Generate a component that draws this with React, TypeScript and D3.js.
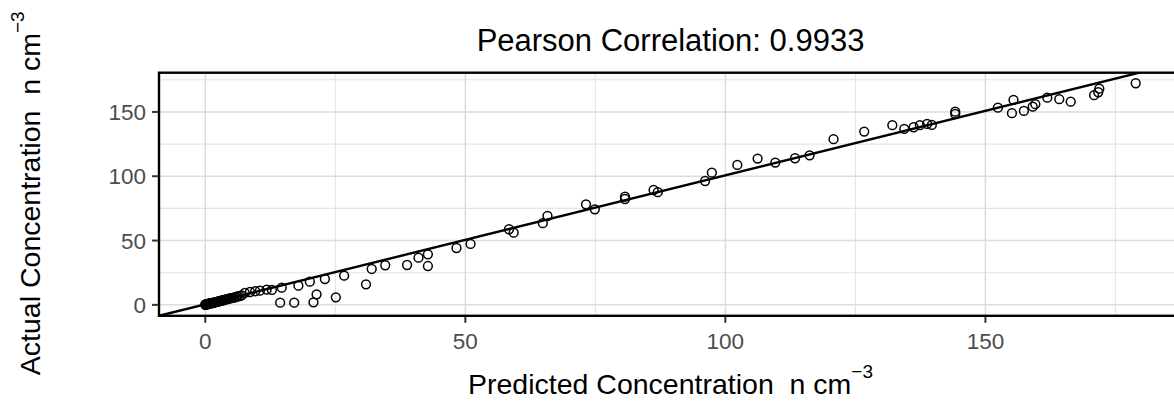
import React from "react";
import * as d3 from "d3";

const predicted: number[] = [
  0.0, 0.05, 0.1, 0.15, 0.2, 0.3, 0.35, 0.4, 0.5, 0.6, 0.7, 0.8, 0.9, 1.0, 1.1, 1.2, 1.4, 1.5, 1.7, 1.9,
  2.0, 2.2, 2.4, 2.6, 2.8, 3.0, 3.2, 3.4, 3.6, 3.8, 4.0, 4.3, 4.5, 4.8, 5.0, 5.3, 5.6, 5.9, 6.2, 6.6, 7.0,
  7.6, 8.6, 9.6, 10.5, 11.8, 12.8, 14.7, 17.9, 20.1, 23.0, 26.7,
  14.4, 17.1, 20.8, 21.4, 25.1,
  30.9, 32.0, 34.6, 38.8, 41.0, 42.8, 42.8, 48.3, 51.0, 58.4, 59.3,
  64.9, 65.8, 73.2, 74.9, 80.7, 80.7, 86.2, 87.0, 96.1, 97.4, 102.3,
  106.2, 109.6, 113.4, 116.2, 120.8, 126.7, 132.1, 134.4, 136.2, 137.4, 138.8, 139.7, 144.2, 144.2,
  152.4, 155.4, 155.1, 157.4, 159.1, 159.6, 161.9, 164.2, 166.4, 170.9, 171.7, 171.9, 178.9,
];
const actual: number[] = [
  0.1, 0.3, 0.2, 0.5, 0.4, 0.6, 0.3, 0.8, 0.5, 0.9, 0.7, 1.1, 1.0, 1.3, 1.2, 1.5, 1.6, 1.4, 1.9, 2.0,
  2.2, 2.4, 2.5, 2.8, 3.0, 3.1, 3.4, 3.6, 3.8, 4.0, 4.3, 4.5, 4.8, 5.0, 5.3, 5.5, 5.9, 6.1, 6.6, 6.9, 7.3,
  9.3, 10.0, 10.6, 11.0, 11.8, 11.6, 13.4, 14.9, 18.0, 20.1, 22.7,
  1.7, 1.7, 2.0, 8.2, 5.9,
  16.0, 27.9, 30.8, 31.0, 36.7, 39.3, 30.2, 44.2, 47.4, 58.8, 56.1,
  63.5, 69.1, 78.2, 74.3, 84.1, 82.3, 89.3, 87.6, 96.3, 102.8, 108.8,
  113.7, 110.6, 114.0, 116.3, 128.8, 134.7, 139.7, 136.8, 138.1, 139.7, 140.7, 139.9, 150.2, 148.4,
  153.3, 159.3, 149.0, 150.8, 154.1, 156.0, 161.1, 159.9, 158.0, 163.0, 165.3, 168.1, 172.3,
];

const xMajorTicks: number[] = [0, 50, 100, 150];
const xMinorTicks: number[] = [25, 75, 125, 175];
const yMajorTicks: number[] = [0, 50, 100, 150];
const yMinorTicks: number[] = [25, 75, 125, 175];

const fitIntercept = 0.4;
const fitSlope = 1.003;
const titleText = "Pearson Correlation: 0.9933";

const W = 1174;
const H = 406;
const panel = { left: 159, right: 1182, top: 72.7, bottom: 315.8 };
const FONT = "'Liberation Sans', Arial, Helvetica, sans-serif";

export default function App() {
  const x = d3.scaleLinear().domain([-8.9, 187.8]).range([panel.left, panel.right]);
  const y = d3.scaleLinear().domain([-8.5, 180.5]).range([panel.bottom, panel.top]);
  const xd = x.domain();
  const fitLine = d3
    .line<number>()
    .x((v) => x(v))
    .y((v) => y(fitIntercept + fitSlope * v))([xd[0], xd[1]]);
  const pts = predicted.map((p, i) => [p, actual[i]] as [number, number]);
  const cx = (panel.left + panel.right) / 2;
  const cy = (panel.top + panel.bottom) / 2;

  return (
    <svg
      width={W}
      height={H}
      style={{ position: "absolute", left: 0, top: 0, background: "#fff" }}
      fontFamily={FONT}
    >
      <defs>
        <clipPath id="panelClip">
          <rect x={panel.left} y={panel.top} width={panel.right - panel.left} height={panel.bottom - panel.top} />
        </clipPath>
      </defs>
      <rect x={0} y={0} width={W} height={H} fill="#fff" />
      <g>
        {xMinorTicks.map((t) => (
          <line key={"xm" + t} x1={x(t)} x2={x(t)} y1={panel.top} y2={panel.bottom} stroke="#E4E4E4" strokeWidth={1.1} />
        ))}
        {yMinorTicks.map((t) => (
          <line key={"ym" + t} y1={y(t)} y2={y(t)} x1={panel.left} x2={panel.right} stroke="#E4E4E4" strokeWidth={1.1} />
        ))}
        {xMajorTicks.map((t) => (
          <line key={"xM" + t} x1={x(t)} x2={x(t)} y1={panel.top} y2={panel.bottom} stroke="#DCDCDC" strokeWidth={1.5} />
        ))}
        {yMajorTicks.map((t) => (
          <line key={"yM" + t} y1={y(t)} y2={y(t)} x1={panel.left} x2={panel.right} stroke="#DCDCDC" strokeWidth={1.5} />
        ))}
      </g>
      <g clipPath="url(#panelClip)">
        {pts.map((d, i) => (
          <circle key={i} cx={x(d[0])} cy={y(d[1])} r={4.4} fill="none" stroke="#000" strokeWidth={1.5} />
        ))}
        <path d={fitLine || ""} stroke="#000" strokeWidth={2.4} fill="none" />
      </g>
      <rect
        x={panel.left}
        y={panel.top}
        width={panel.right - panel.left}
        height={panel.bottom - panel.top}
        fill="none"
        stroke="#000"
        strokeWidth={2.4}
      />
      {xMajorTicks.map((t) => (
        <g key={"xt" + t}>
          <line x1={x(t)} x2={x(t)} y1={panel.bottom + 1} y2={panel.bottom + 7} stroke="#333" strokeWidth={2} />
          <text x={x(t)} y={348.5} textAnchor="middle" fontSize={22.5} fill="#4D4D4D">
            {t}
          </text>
        </g>
      ))}
      {yMajorTicks.map((t) => (
        <g key={"yt" + t}>
          <line x1={panel.left - 7} x2={panel.left - 1} y1={y(t)} y2={y(t)} stroke="#333" strokeWidth={2} />
          <text x={146} y={y(t) + 8} textAnchor="end" fontSize={22.5} fill="#4D4D4D">
            {t}
          </text>
        </g>
      ))}
      <text x={cx} y={51} textAnchor="middle" fontSize={31} fill="#000">
        {titleText}
      </text>
      <text x={cx} y={394} textAnchor="middle" fontSize={28.5} fill="#000" style={{ whiteSpace: "pre" }}>
        {"Predicted Concentration  n cm"}
        <tspan dy={-16} fontSize={19}>
          {"\u22123"}
        </tspan>
      </text>
      <text
        transform={`translate(40, ${cy - 1}) rotate(-90)`}
        textAnchor="middle"
        fontSize={28.5}
        fill="#000"
        style={{ whiteSpace: "pre" }}
      >
        {"Actual Concentration  n cm"}
        <tspan dy={-16} fontSize={19}>
          {"\u22123"}
        </tspan>
      </text>
    </svg>
  );
}
